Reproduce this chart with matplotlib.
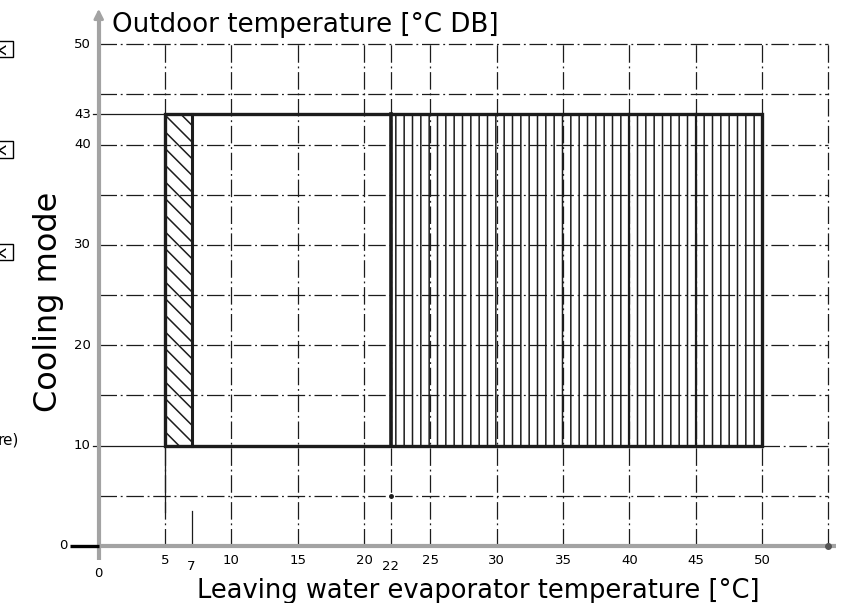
import matplotlib
matplotlib.use("Agg")
import matplotlib.pyplot as plt
from matplotlib.patches import Rectangle

# operating envelope, cooling mode
lwt_min, lwt_glycol, lwt_split, lwt_max = 5, 7, 22, 50
oat_min, oat_max = 10, 43
heavy_lines = [40, 45]

x_ticks = [5, 7, 10, 15, 20, 22, 25, 30, 35, 40, 45, 50]
y_ticks = [10, 20, 30, 40, 43, 50]
grid_x = [5, 10, 15, 20, 22, 25, 30, 35, 40, 45, 50, 55]
grid_y = [5, 15, 20, 25, 30, 35, 40, 45, 50]

title_top = "Outdoor temperature [°C DB]"
title_bottom = "Leaving water evaporator temperature [°C]"
side_label = "Cooling mode"

plt.rcParams['hatch.linewidth'] = 1.1
plt.rcParams['hatch.color'] = '#222222'
tick_font = ['Liberation Sans Narrow', 'DejaVu Sans']
ink = '#1c1c1c'
dashdot = (14, 3, 1.5, 3)

fig = plt.figure(figsize=(8.47, 6.03), dpi=100)
ax = fig.add_axes([0, 0, 1, 1])
ax.set_xlim(-7.44, 56.4)
ax.set_ylim(-5.68, 54.4)
ax.axis('off')

# dash-dot grid
for gx in grid_x:
    ax.plot([gx, gx], [0, 50], color=ink, lw=0.9, dashes=dashdot, zorder=1)
for gy in grid_y:
    ax.plot([0, 55], [gy, gy], color=ink, lw=0.9, dashes=dashdot, zorder=1)
ax.plot([lwt_max, 55], [oat_min, oat_min], color=ink, lw=0.9, dashes=dashdot, zorder=1)
for gy in [oat_min, oat_max]:
    ax.plot([-0.4, lwt_min], [gy, gy], color=ink, lw=0.9, zorder=1)
ax.plot([lwt_min, lwt_min], [3.4, oat_min], color=ink, lw=0.9, zorder=1)
ax.plot([lwt_glycol, lwt_glycol], [0, 3.5], color=ink, lw=0.9, zorder=1)
ax.plot([lwt_split], [5], marker='o', ms=2.5, color=ink, zorder=2)

# envelope areas (transparent, grid shows through)
ax.add_patch(Rectangle((lwt_min, oat_min), lwt_glycol - lwt_min, oat_max - oat_min,
                       facecolor='none', edgecolor=ink, hatch='\\\\', lw=0, zorder=2))
ax.add_patch(Rectangle((lwt_split, oat_min), lwt_max - lwt_split, oat_max - oat_min,
                       facecolor='none', edgecolor=ink, hatch='||', lw=0, zorder=2))
for hx in heavy_lines:
    ax.plot([hx, hx], [oat_min, oat_max], color=ink, lw=1.6, zorder=3)
ax.plot([lwt_glycol, lwt_glycol], [oat_min, oat_max], color=ink, lw=2.2, zorder=3)
ax.plot([lwt_split, lwt_split], [oat_min, oat_max], color=ink, lw=2.6, zorder=3)
ax.add_patch(Rectangle((lwt_min, oat_min), lwt_max - lwt_min, oat_max - oat_min,
                       fill=False, edgecolor=ink, lw=2.4, zorder=4))

# axes drawn as arrows
grey = '#a3a3a3'
ax.plot([0, 55.6], [0, 0], color=grey, lw=3, solid_capstyle='butt', zorder=5)
ax.plot([0, 0], [-1.4, 52.6], color=grey, lw=3, solid_capstyle='butt', zorder=5)
ax.annotate('', xy=(56.5, 0), xytext=(55.0, 0),
            arrowprops=dict(arrowstyle='-|>', color=grey, lw=2, mutation_scale=14), zorder=5)
ax.annotate('', xy=(0, 53.8), xytext=(0, 52.0),
            arrowprops=dict(arrowstyle='-|>', color=grey, lw=2, mutation_scale=14), zorder=5)
ax.plot([-2.2, 0], [0, 0], color='black', lw=2.4, solid_capstyle='butt', zorder=6)
ax.plot([55], [0], marker='o', ms=4, color='#555555', zorder=6)

# tick labels
for xt in x_ticks:
    yy = -2.0 if xt in (7, 22) else -1.4
    ax.text(xt, yy, str(xt), ha='center', va='center', fontsize=9.5, family=tick_font)
ax.text(0, -2.7, '0', ha='center', va='center', fontsize=9.5, family=tick_font)
for yt in y_ticks:
    ax.text(-0.6, yt, str(yt), ha='right', va='center', fontsize=9.5, family=tick_font)
ax.text(-2.35, 0, '0', ha='right', va='center', fontsize=9.5, family=tick_font)

# titles
ax.text(1.0, 51.25, title_top, ha='left', va='baseline', fontsize=18.8)
ax.text(28.6, -5.18, title_bottom, ha='center', va='baseline', fontsize=18.5)
ax.text(-3.82, 24.3, side_label, rotation=90, ha='center', va='center', fontsize=23)

# fragments cut off at the left edge, as in the source picture
for fy in [49.5, 39.5, 29.3]:
    ax.text(-7.3, fy, 'X', rotation=90, ha='center', va='center', fontsize=12,
            bbox=dict(boxstyle='square,pad=0.15', fc='white', ec='black', lw=1))
ax.text(-7.6, 10.6, 're)', ha='left', va='center', fontsize=11)

fig.savefig('out.png', dpi=100)
